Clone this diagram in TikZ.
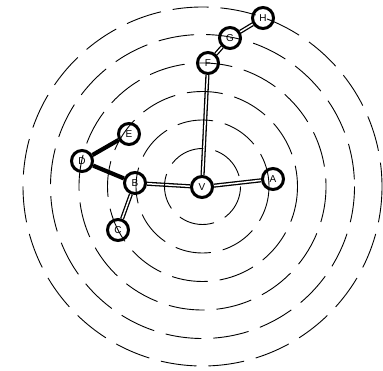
\documentclass[tikz,border=0pt]{standalone}
\usepackage{fontspec}
\setmainfont{Liberation Sans}
\usetikzlibrary{backgrounds}
\begin{document}
\begin{tikzpicture}[x=1pt,y=-1pt,
  vert/.style={circle,draw,line width=3pt,fill=white,minimum size=21pt,inner sep=0pt,font=\fontsize{10}{10}\selectfont},
  dbl/.style={double,line width=1.3pt,double distance=1.5pt},
  thk/.style={line width=4.2pt},
  ring/.style={line width=0.9pt,dash pattern=on 36pt off 12pt}]
\useasboundingbox (0,0) rectangle (383,371);
\node[vert] (V) at (202,187) {V};
\node[vert] (A) at (273,179) {A};
\node[vert] (B) at (135,183) {B};
\node[vert] (C) at (118,230) {C};
\node[vert] (D) at (82,161) {D};
\node[vert] (E) at (129,134) {E};
\node[vert] (F) at (208,63) {F};
\node[vert] (G) at (230,38) {G};
\node[vert] (H) at (263,18) {H};
\begin{scope}[on background layer]
\draw[dbl] (V) -- (A);
\draw[dbl] (V) -- (B);
\draw[dbl] (V) -- (F);
\draw[dbl] (B) -- (C);
\draw[dbl] (F) -- (G);
\draw[dbl] (G) -- (H);
\draw[thk] (B) -- (D);
\draw[thk] (D) -- (E);
\end{scope}
\coordinate (O) at (202.5,186.5);
\foreach \r in {38,66.5,95,123.5,152,179.5}{\draw[ring] (O) circle[radius=\r];}
\end{tikzpicture}
\end{document}
